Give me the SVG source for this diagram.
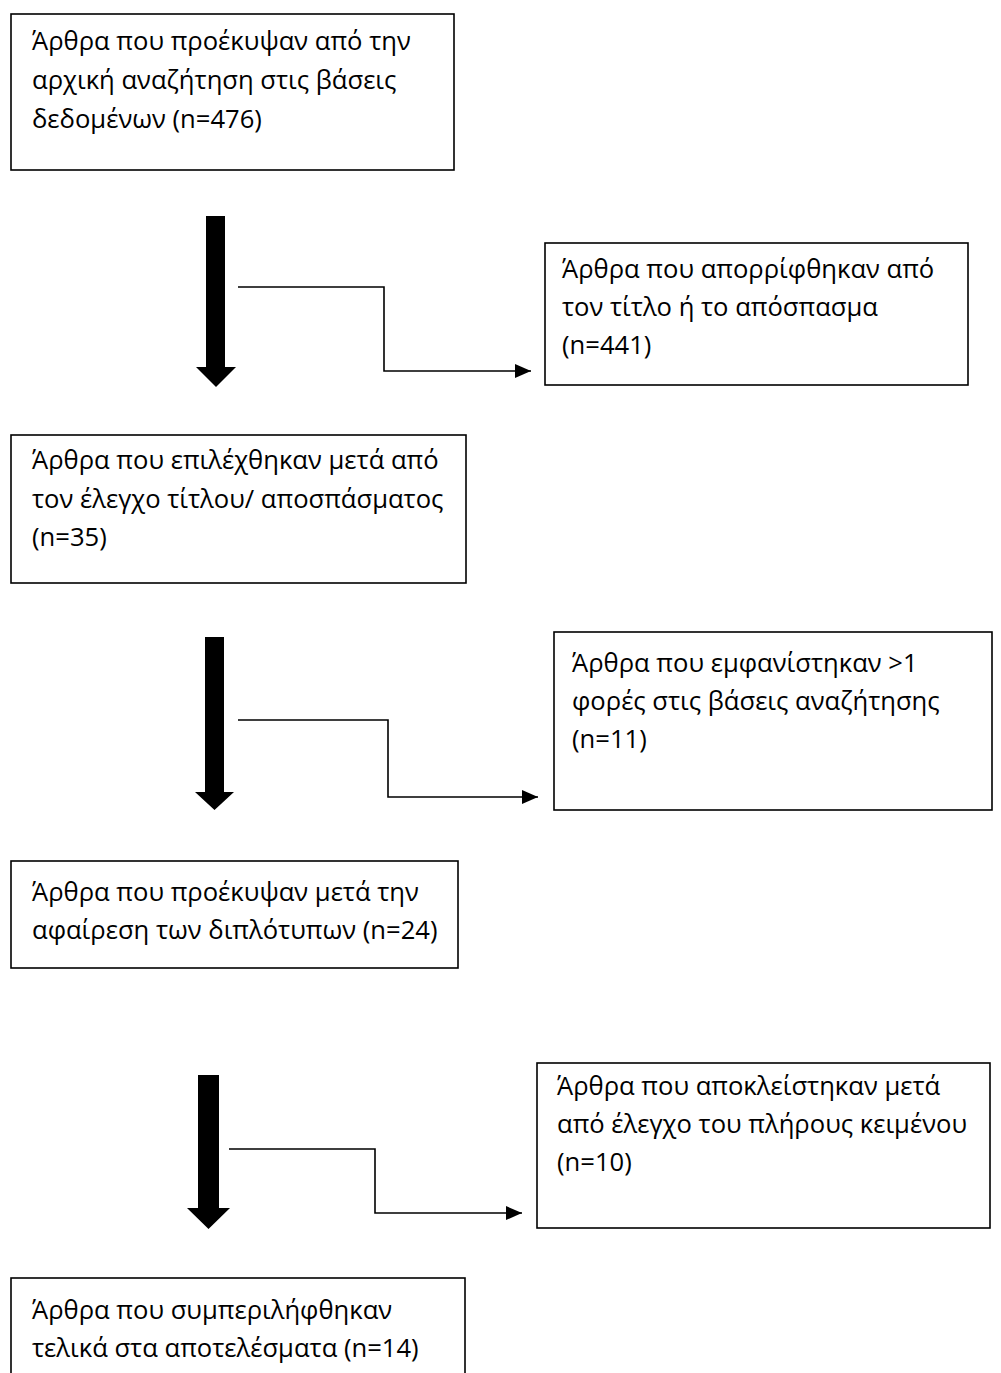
<svg xmlns="http://www.w3.org/2000/svg" width="1001" height="1373" viewBox="0 0 1001 1373">
<style>
.box{fill:#fff;stroke:#000;stroke-width:1.6}
.t{font-family:"Open Sans","Noto Sans","Liberation Sans",sans-serif;font-size:25.6px;fill:#000}
.blk{fill:#000}
.con{fill:none;stroke:#000;stroke-width:1.6}
</style>
<defs>
<marker id="ah" markerUnits="userSpaceOnUse" markerWidth="16" markerHeight="14" refX="16" refY="7" orient="auto">
<path d="M0,0 L16,7 L0,14 Z" fill="#000"/>
</marker>
</defs>
<rect width="1001" height="1373" fill="#fff"/>
<g id="n1">
<rect class="box" x="11" y="14" width="443" height="156"/>
<text class="t"><tspan x="32" y="50">Άρθρα που προέκυψαν από την</tspan><tspan x="32" y="89">αρχική αναζήτηση στις βάσεις</tspan><tspan x="32" y="128">δεδομένων (n=476)</tspan></text>
</g>
<g id="n2">
<rect class="box" x="545" y="243" width="423" height="142"/>
<text class="t"><tspan x="562" y="278">Άρθρα που απορρίφθηκαν από</tspan><tspan x="562" y="316">τον τίτλο ή το απόσπασμα</tspan><tspan x="562" y="354">(n=441)</tspan></text>
</g>
<g id="n3">
<rect class="box" x="11" y="435" width="455" height="148"/>
<text class="t"><tspan x="32" y="469">Άρθρα που επιλέχθηκαν μετά από</tspan><tspan x="32" y="508">τον έλεγχο τίτλου/ αποσπάσματος</tspan><tspan x="32" y="546">(n=35)</tspan></text>
</g>
<g id="n4">
<rect class="box" x="554" y="632" width="438" height="178"/>
<text class="t"><tspan x="572" y="672">Άρθρα που εμφανίστηκαν &gt;1</tspan><tspan x="572" y="710">φορές στις βάσεις αναζήτησης</tspan><tspan x="572" y="748">(n=11)</tspan></text>
</g>
<g id="n5">
<rect class="box" x="11" y="861" width="447" height="107"/>
<text class="t"><tspan x="32" y="901">Άρθρα που προέκυψαν μετά την</tspan><tspan x="32" y="939">αφαίρεση των διπλότυπων (n=24)</tspan></text>
</g>
<g id="n6">
<rect class="box" x="537" y="1063" width="453" height="165"/>
<text class="t"><tspan x="557" y="1095">Άρθρα που αποκλείστηκαν μετά</tspan><tspan x="557" y="1133">από έλεγχο του πλήρους κειμένου</tspan><tspan x="557" y="1171">(n=10)</tspan></text>
</g>
<g id="n7">
<rect class="box" x="11" y="1278" width="454" height="130"/>
<text class="t"><tspan x="32" y="1319">Άρθρα που συμπεριλήφθηκαν</tspan><tspan x="32" y="1357">τελικά στα αποτελέσματα (n=14)</tspan></text>
</g>
<g id="connectors">
<polygon class="blk" points="206,216 225,216 225,367 236,367 216,387 196,367 206,367"/>
<polygon class="blk" points="205,637 224,637 224,792 234,792 214.5,810 195,792 205,792"/>
<polygon class="blk" points="198,1075 219,1075 219,1208 230,1208 208.5,1229 187,1208 198,1208"/>
<path class="con" d="M238,287 H384 V371 H531" marker-end="url(#ah)"/>
<path class="con" d="M238,720 H388 V797 H538" marker-end="url(#ah)"/>
<path class="con" d="M229,1149 H375 V1213 H522" marker-end="url(#ah)"/>
</g>
</svg>
